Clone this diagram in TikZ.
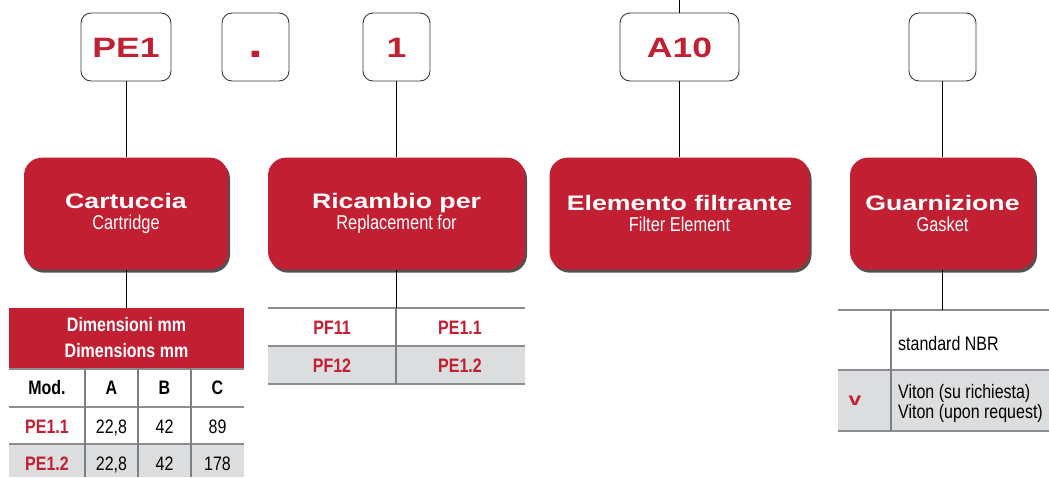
\documentclass[tikz,border=0pt]{standalone}
\usepackage{fontspec}
\setmainfont{Liberation Sans}
\newfontfamily\extfont[FakeStretch=1.27]{Liberation Sans}
\newfontfamily\condfont[FakeStretch=0.82]{Liberation Sans}
\usepackage{xcolor}
\definecolor{cRed}{HTML}{C21F33}
\definecolor{cEdge}{HTML}{3A3A3A}
\definecolor{cRule}{HTML}{8C8D91}
\definecolor{cRow}{HTML}{DCDDDF}
\usepackage{tikz}
\usetikzlibrary{positioning,shadows}
\tikzset{
  code-box/.style={draw=cEdge,line width=0.9pt,rounded corners=10pt,
    minimum height=68pt,minimum width=67pt,inner sep=0pt,text=cRed,
    text height=20pt,text depth=0pt,
    font=\extfont\bfseries\fontsize{28}{30}\selectfont},
  red-box/.style={fill=cRed,rounded corners=18pt,minimum height=112pt,
    inner sep=0pt,align=center,text=white,
    font=\condfont\fontsize{20}{21}\selectfont,
    drop shadow={shadow xshift=2pt,shadow yshift=-3pt,fill=black!85,opacity=0.8}},
  tab-head/.style={fill=cRed,inner sep=0pt,align=center,text=white,
    font=\condfont\bfseries\fontsize{19.5}{26}\selectfont},
  cell/.style={inner sep=0pt,anchor=base,font=\condfont\fontsize{19.5}{18}\selectfont},
  cell-bold/.style={cell,font=\condfont\bfseries\fontsize{19.5}{18}\selectfont},
  cell-red/.style={cell-bold,text=cRed},
  rule/.style={draw=cRule,line width=1.6pt},
  rule-v/.style={draw=cRule!90!black,line width=2.4pt},
  link/.style={draw=black,line width=0.8pt},
}
\newcommand{\boxtitle}[2]{{\extfont\bfseries\fontsize{21}{20}\selectfont #1}\\#2}

\begin{document}
\begin{tikzpicture}[x=1pt,y=-1pt]
  \useasboundingbox (0,0) rectangle (1049,477);

  % codice
  \node[code-box,minimum width=90pt] (pe1) at (126,47) {PE1};
  \node[code-box] (dot) at (255.5,47) {\fontsize{42}{42}\selectfont .};
  \node[code-box] (one) at (396.5,47) {1};
  \node[code-box,minimum width=119pt] (a10) at (679.5,47) {A10};
  \node[code-box] (seal) at (942.5,47) {};
  \coordinate (a10up) at (679.5,0);

  \node[red-box,minimum width=204pt,below=76pt of pe1] (cart) {\boxtitle{Cartuccia}{Cartridge}};
  \node[red-box,minimum width=257pt,below=76pt of one] (ric) {\boxtitle{Ricambio per}{Replacement for}};
  \node[red-box,minimum width=260pt,below=76pt of a10] (elem) {\boxtitle{Elemento filtrante}{Filter Element}};
  \node[red-box,minimum width=185pt,below=76pt of seal] (guar) {\boxtitle{Guarnizione}{Gasket}};

  % tabella dimensioni
  \fill[cRow] (9,444) rectangle (244,477);
  \node[tab-head,minimum width=235pt,minimum height=60pt] (dims) at (126.5,338) {Dimensioni mm\\Dimensions mm};
  \foreach \y in {369,407,444} \draw[rule] (9,\y) -- (244,\y);
  \foreach \x in {85,138,191} \draw[rule-v] (\x,369) -- (\x,477);
  \node[cell-bold] (hmod) at (47,394) {Mod.};
  \node[cell-bold] (ha) at (111.5,394) {A};
  \node[cell-bold] (hb) at (164.5,394) {B};
  \node[cell-bold] (hc) at (217.5,394) {C};
  \node[cell-red] (m1) at (47,433) {PE1.1};
  \node[cell] (a1) at (111.5,433) {22,8};
  \node[cell] (b1) at (164.5,433) {42};
  \node[cell] (c1) at (217.5,433) {89};
  \node[cell-red] (m2) at (47,470) {PE1.2};
  \node[cell] (a2) at (111.5,470) {22,8};
  \node[cell] (b2) at (164.5,470) {42};
  \node[cell] (c2) at (217.5,470) {178};

  % tabella ricambi
  \fill[cRow] (268,346) rectangle (525,384);
  \foreach \y in {308,346,384} \draw[rule] (268,\y) -- (525,\y);
  \draw[rule-v] (396,308) -- (396,384);
  \coordinate (rictop) at (396.5,308);
  \node[cell-red] (pf11) at (332,334) {PF11};
  \node[cell-red] (pe11) at (460,334) {PE1.1};
  \node[cell-red] (pf12) at (332,372) {PF12};
  \node[cell-red] (pe12) at (460,372) {PE1.2};

  % tabella guarnizioni
  \fill[cRow] (838,370) rectangle (1049,431);
  \foreach \y in {310,370,431} \draw[rule] (838,\y) -- (1049,\y);
  \draw[rule-v] (891,310) -- (891,431);
  \coordinate (sealtop) at (942.5,310);
  \node[cell,anchor=base west] (nbr) at (898,350) {standard NBR};
  \node[cell,anchor=base west,align=left] (viton) at (898,418) {Viton (su richiesta)\\Viton (upon request)};
  \node[inner sep=0pt,anchor=base,text=cRed,font=\extfont\bfseries\fontsize{18}{18}\selectfont] (vcode) at (855,405) {v};

  % collegamenti
  \draw[link] (a10.north) -- (a10up);
  \draw[link] (pe1) -- (cart);
  \draw[link] (one) -- (ric);
  \draw[link] (a10) -- (elem);
  \draw[link] (seal) -- (guar);
  \draw[link] (cart.south) -- (cart.south |- dims.north);
  \draw[link] (ric.south) -- (rictop);
  \draw[link] (guar.south) -- (sealtop);
\end{tikzpicture}
\end{document}
